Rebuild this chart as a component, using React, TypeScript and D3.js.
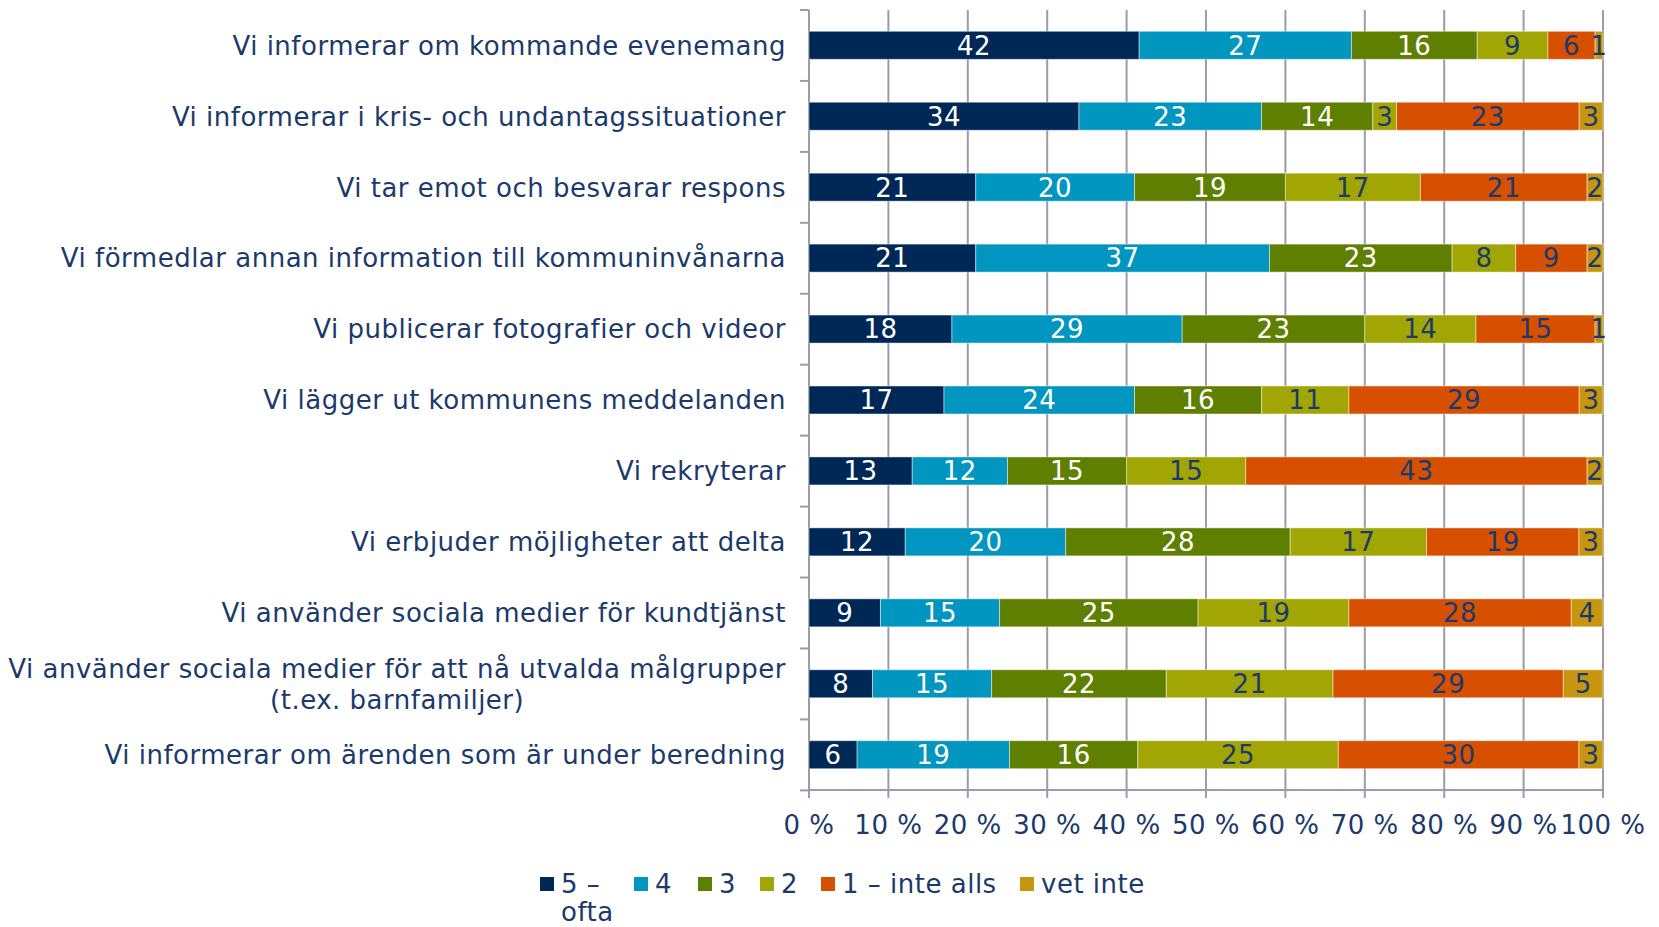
import React from "react";
import * as d3 from "d3";

const categories = [
  "Vi informerar om kommande evenemang",
  "Vi informerar i kris- och undantagssituationer",
  "Vi tar emot och besvarar respons",
  "Vi förmedlar annan information till kommuninvånarna",
  "Vi publicerar fotografier och videor",
  "Vi lägger ut kommunens meddelanden",
  "Vi rekryterar",
  "Vi erbjuder möjligheter att delta",
  "Vi använder sociala medier för kundtjänst",
  "Vi använder sociala medier för att nå utvalda målgrupper\n(t.ex. barnfamiljer)",
  "Vi informerar om ärenden som är under beredning",
];

const seriesNames = ["5 –\nofta", "4", "3", "2", "1 – inte alls", "vet inte"];

const s5 = [42, 34, 21, 21, 18, 17, 13, 12, 9, 8, 6];
const s4 = [27, 23, 20, 37, 29, 24, 12, 20, 15, 15, 19];
const s3 = [16, 14, 19, 23, 23, 16, 15, 28, 25, 22, 16];
const s2 = [9, 3, 17, 8, 14, 11, 15, 17, 19, 21, 25];
const s1 = [6, 23, 21, 9, 15, 29, 43, 19, 28, 29, 30];
const sVet = [1, 3, 2, 2, 1, 3, 2, 3, 4, 5, 3];

const xTicks = [0, 0.1, 0.2, 0.3, 0.4, 0.5, 0.6, 0.7, 0.8, 0.9, 1];
const xTickLabels = ["0 %", "10 %", "20 %", "30 %", "40 %", "50 %", "60 %", "70 %", "80 %", "90 %", "100 %"];

const colors = ["#002857", "#0096c0", "#5f7f00", "#a2a604", "#d75000", "#c8960e"];
const labelColors = ["#ffffff", "#ffffff", "#ffffff", "#1b3a6b", "#1b3a6b", "#1b3a6b"];

const W = 1659;
const H = 927;
const left = 809;
const right = 1603;
const top = 10;
const bottom = 790;
const textColor = "#1b3a6b";
const gridColor = "#9a9cab";
const FONT = "'DejaVu Sans', Verdana, sans-serif";
const FS = 26;
const LS = 0.5;

function measure(text: string, size: number, spacing: number) {
  if (typeof document === "undefined") return text.length * size * 0.6;
  const c = document.createElement("canvas");
  const ctx = c.getContext("2d")!;
  ctx.font = `${size}px 'DejaVu Sans'`;
  return ctx.measureText(text).width + spacing * text.length;
}

export default function App() {
  const series = [s5, s4, s3, s2, s1, sVet];
  const rows = categories.map((c, i) => {
    const o: any = { cat: c };
    series.forEach((s, j) => (o["k" + j] = s[i]));
    return o;
  });
  const keys = series.map((_, j) => "k" + j);
  const stacked = d3.stack<any>().keys(keys).offset(d3.stackOffsetExpand)(rows);

  const x = d3.scaleLinear().domain([0, 1]).range([left, right]);
  const y = d3.scaleBand<string>().domain(categories).range([top, bottom]).paddingInner(0.605).paddingOuter(0.3);
  const step = y.step();
  const boundaries = d3.range(categories.length + 1).map((i) => top + i * step);

  const legendX = [540, 634, 698, 760, 821, 1020];

  return (
    <svg width={W} height={H} style={{ position: "absolute", left: 0, top: 0, background: "#fff" }} fontFamily={FONT}>
      {xTicks.map((t, i) => (
        <line key={"g" + i} x1={x(t)} x2={x(t)} y1={top} y2={bottom + 8} stroke={gridColor} strokeWidth={2} />
      ))}
      <line x1={left} x2={left} y1={top} y2={bottom} stroke={gridColor} strokeWidth={2} />
      {boundaries.map((b, i) => (
        <line key={"lt" + i} x1={left - 9} x2={left} y1={b} y2={b} stroke={gridColor} strokeWidth={2} />
      ))}
      <line x1={left - 1} x2={right + 1} y1={bottom} y2={bottom} stroke={gridColor} strokeWidth={2} />

      {stacked.map((layer, j) => (
        <g key={"s" + j}>
          {layer.map((d, i) => {
            const x0 = x(d[0]);
            const x1 = x(d[1]);
            const yy = y(categories[i])!;
            const v = series[j][i];
            return (
              <g key={i}>
                <rect x={x0} y={yy} width={x1 - x0} height={y.bandwidth()} fill={colors[j]} stroke="#ffffff" strokeOpacity={0.45} strokeWidth={1} />
                <text
                  x={(x0 + x1) / 2}
                  y={yy + y.bandwidth() / 2}
                  dy="0.36em"
                  textAnchor="middle"
                  fontSize={26}
                  letterSpacing={0.5}
                  fill={labelColors[j]}
                >
                  {v}
                </text>
              </g>
            );
          })}
        </g>
      ))}

      {categories.map((c, i) => {
        const lines = c.split("\n");
        const cy = y(c)! + y.bandwidth() / 2;
        const lh = 31;
        const labelRight = 786;
        if (lines.length === 1) {
          return (
            <text key={"c" + i} x={labelRight} y={cy} dy="0.36em" textAnchor="end" fontSize={FS} letterSpacing={LS} fill={textColor}>
              {c}
            </text>
          );
        }
        const maxW = Math.max(...lines.map((l) => measure(l, FS, LS)));
        return (
          <text key={"c" + i} fontSize={FS} letterSpacing={LS} fill={textColor} textAnchor="middle">
            {lines.map((l, k) => (
              <tspan key={k} x={labelRight - maxW / 2} y={cy + (k - (lines.length - 1) / 2) * lh} dy="0.36em">
                {l}
              </tspan>
            ))}
          </text>
        );
      })}

      {xTicks.map((t, i) => (
        <text key={"xt" + i} x={x(t)} y={825} dy="0.36em" textAnchor="middle" fontSize={FS} letterSpacing={LS} fill={textColor}>
          {xTickLabels[i]}
        </text>
      ))}

      {seriesNames.map((n, j) => {
        const lines = n.split("\n");
        return (
          <g key={"l" + j}>
            <rect x={legendX[j]} y={877} width={14} height={14} fill={colors[j]} />
            <text fontSize={FS} letterSpacing={LS} fill={textColor}>
              {lines.map((l, k) => (
                <tspan key={k} x={legendX[j] + 21} y={884 + k * 28} dy="0.36em">
                  {l}
                </tspan>
              ))}
            </text>
          </g>
        );
      })}
    </svg>
  );
}
